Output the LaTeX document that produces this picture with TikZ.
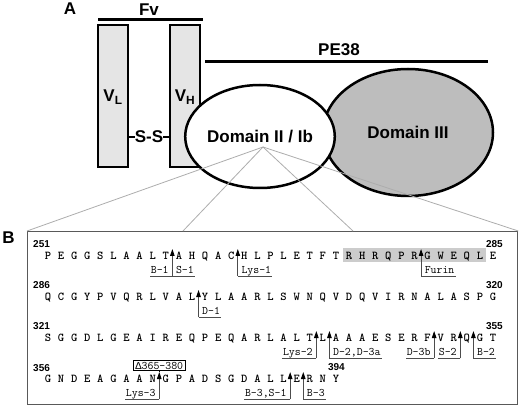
\documentclass[tikz,border=0pt]{standalone}
\usepackage{fontspec}
\setmainfont{Liberation Sans}
\newfontfamily\monof{Liberation Mono}
\newfontfamily\resf{lmmonolt10-bold.otf}
\usetikzlibrary{arrows.meta,shapes.geometric}
\definecolor{vfill}{gray}{0.9}
\definecolor{dthree}{gray}{0.74}
\definecolor{shadec}{gray}{0.8}
\definecolor{linec}{gray}{0.3}
\definecolor{fanc}{gray}{0.68}
\definecolor{boxc}{gray}{0.35}
\newcommand\mysite[3]{%
  \coordinate (c#1) at ({48+13.09*#2},{#3+21});
  \coordinate (t#1) at ({48+13.09*#2},{#3-6});
  \draw[cl,-{Triangle[width=4.5pt,length=7pt,color=black]}] (c#1) -- (t#1);}
\newcommand\myllab[3]{%
  \node[lab,anchor=base east] (#1) at ([xshift=-2.5pt,yshift=3pt]c#2) {#3};
  \draw[cl] (c#2) -- (c#2 -| #1.west);}
\newcommand\myrlab[3]{%
  \node[lab,anchor=base west] (#1) at ([xshift=2.5pt,yshift=3pt]c#2) {#3};
  \draw[cl] (c#2) -- (c#2 -| #1.east);}
\begin{document}
\begin{tikzpicture}[x=1pt,y=-1pt,
  big/.style={font=\fontsize{17}{17}\selectfont\bfseries, inner sep=0pt},
  res/.style={font=\resf\fontsize{12}{12}\selectfont, inner sep=0pt, anchor=base},
  lab/.style={font=\ttfamily\fontsize{11.5}{11.5}\selectfont, inner sep=1pt, anchor=base},
  num/.style={font=\fontsize{10}{10}\selectfont\bfseries, inner sep=0pt},
  vbox/.style={draw=black, line width=2.4pt, fill=vfill, minimum width=30pt, minimum height=142pt, inner sep=0pt},
  dom/.style={ellipse, draw=black, line width=2.5pt, inner sep=0pt, font=\fontsize{17}{17}\selectfont\bfseries},
  cl/.style={draw=linec, line width=0.9pt},
  bar/.style={line width=3pt},
  fan/.style={draw=fanc, line width=0.8pt}]
\useasboundingbox (0,0) rectangle (520,409);
% ---------- Part A ----------
\node[big] (A) at (70,9) {A};
\node[big] (fv) at (149,9.5) {Fv};
\coordinate (fvl) at (98,20); \coordinate (fvr) at (203,20);
\draw[bar] (fvl) -- (fvr);
\node[vbox] (vl) at (113,96) {};
\node[vbox] (vh) at (185,96) {};
\node[big] (vlt) at (113,97) {V\textsubscript{L}};
\node[big] (vht) at (185,97) {V\textsubscript{H}};
\node[big] (ss) at (149,137) {S-S};
\draw[line width=1.5pt] (vl.east |- ss) -- (ss.west);
\draw[line width=1.5pt] (ss.east) -- (vh.west |- ss);
\node[big] (pe) at (339,50) {PE38};
\coordinate (pel) at (205,62); \coordinate (per) at (488,62);
\draw[bar] (pel) -- (per);
\node[dom, fill=dthree, minimum width=170pt, minimum height=127pt] (d3) at (408,132.5) {Domain III};
\node[dom, fill=white, minimum width=146pt, minimum height=103pt] (d2) at (260,136.5) {Domain II / Ib};
% ---------- fan ----------
\node[draw=boxc, line width=1.3pt, minimum width=490pt, minimum height=173pt, inner sep=0pt, anchor=north west] (boxB) at (27,231) {};
\coordinate (apex) at (263,147);
\coordinate (f2) at (183,231);
\coordinate (f3) at (353,231);
\draw[fan] (apex) -- (boxB.north west);
\draw[fan] (apex) -- (f2);
\draw[fan] (apex) -- (f3);
\draw[fan] (apex) -- (boxB.north east);
\node[big] (B) at (8.5,237.5) {B};
% ---------- Part B ----------
\fill[shadec] ({48+13.09*23-6.5},248) rectangle ({48+13.09*33+6.5},262);
\foreach \c [count=\i from 0] in {P,E,G,G,S,L,A,A,L,T,A,H,Q,A,C,H,L,P,L,E,T,F,T,R,H,R,Q,P,R,G,W,E,Q,L,E}
  \node[res] (ra\i) at ({48+13.09*\i},259) {\c};
\foreach \c [count=\i from 0] in {Q,C,G,Y,P,V,Q,R,L,V,A,L,Y,L,A,A,R,L,S,W,N,Q,V,D,Q,V,I,R,N,A,L,A,S,P,G}
  \node[res] (rb\i) at ({48+13.09*\i},300) {\c};
\foreach \c [count=\i from 0] in {S,G,G,D,L,G,E,A,I,R,E,Q,P,E,Q,A,R,L,A,L,T,L,A,A,A,E,S,E,R,F,V,R,Q,G,T}
  \node[res] (rc\i) at ({48+13.09*\i},341) {\c};
\foreach \c [count=\i from 0] in {G,N,D,E,A,G,A,A,N,G,P,A,D,S,G,D,A,L,L,E,R,N,Y}
  \node[res] (rd\i) at ({48+13.09*\i},382) {\c};
% numbers
\node[num,anchor=west] (n251) at (33,244) {251};
\node[num,anchor=east] (n285) at (503,244) {285};
\node[num,anchor=west] (n286) at (33,285) {286};
\node[num,anchor=east] (n320) at (503,285) {320};
\node[num,anchor=west] (n321) at (33,326) {321};
\node[num,anchor=east] (n355) at (503,326) {355};
\node[num,anchor=west] (n356) at (33,368) {356};
\node[num,anchor=east] (n394) at ({48+13.09*22+9},367) {394};
% cleavage sites
\mysite{1}{9.5}{255}  \myllab{lb1}{1}{B-1} \myrlab{ls1}{1}{S-1}
\mysite{2}{14.5}{255} \myrlab{lk1}{2}{Lys-1}
\mysite{3}{28.5}{255} \myrlab{lfu}{3}{Furin}
\mysite{4}{11.5}{296} \myrlab{ld1}{4}{D-1}
\mysite{5}{20.5}{337} \myllab{lk2}{5}{Lys-2}
\mysite{6}{21.5}{337} \myrlab{ld2}{6}{D-2,D-3a}
\mysite{7}{29.5}{337} \myllab{ld3}{7}{D-3b}
\mysite{8}{31.5}{337} \myllab{ls2}{8}{S-2}
\mysite{9}{32.5}{337} \myrlab{lb2}{9}{B-2}
\mysite{10}{8.5}{378} \myllab{lk3}{10}{Lys-3}
\mysite{11}{18.5}{378} \myllab{lb3}{11}{B-3,S-1}
\mysite{12}{19.5}{378} \myrlab{lb4}{12}{B-3}
\node[lab, anchor=center, draw=black, line width=0.7pt, inner xsep=2pt, inner ysep=1.5pt] (del) at ({48+13.09*8.5},365.5) {{\monof\fontsize{10.5}{10.5}\selectfont Δ}365-380};
\draw[line width=1.2pt] (del.south) -- (t10);
\end{tikzpicture}
\end{document}
